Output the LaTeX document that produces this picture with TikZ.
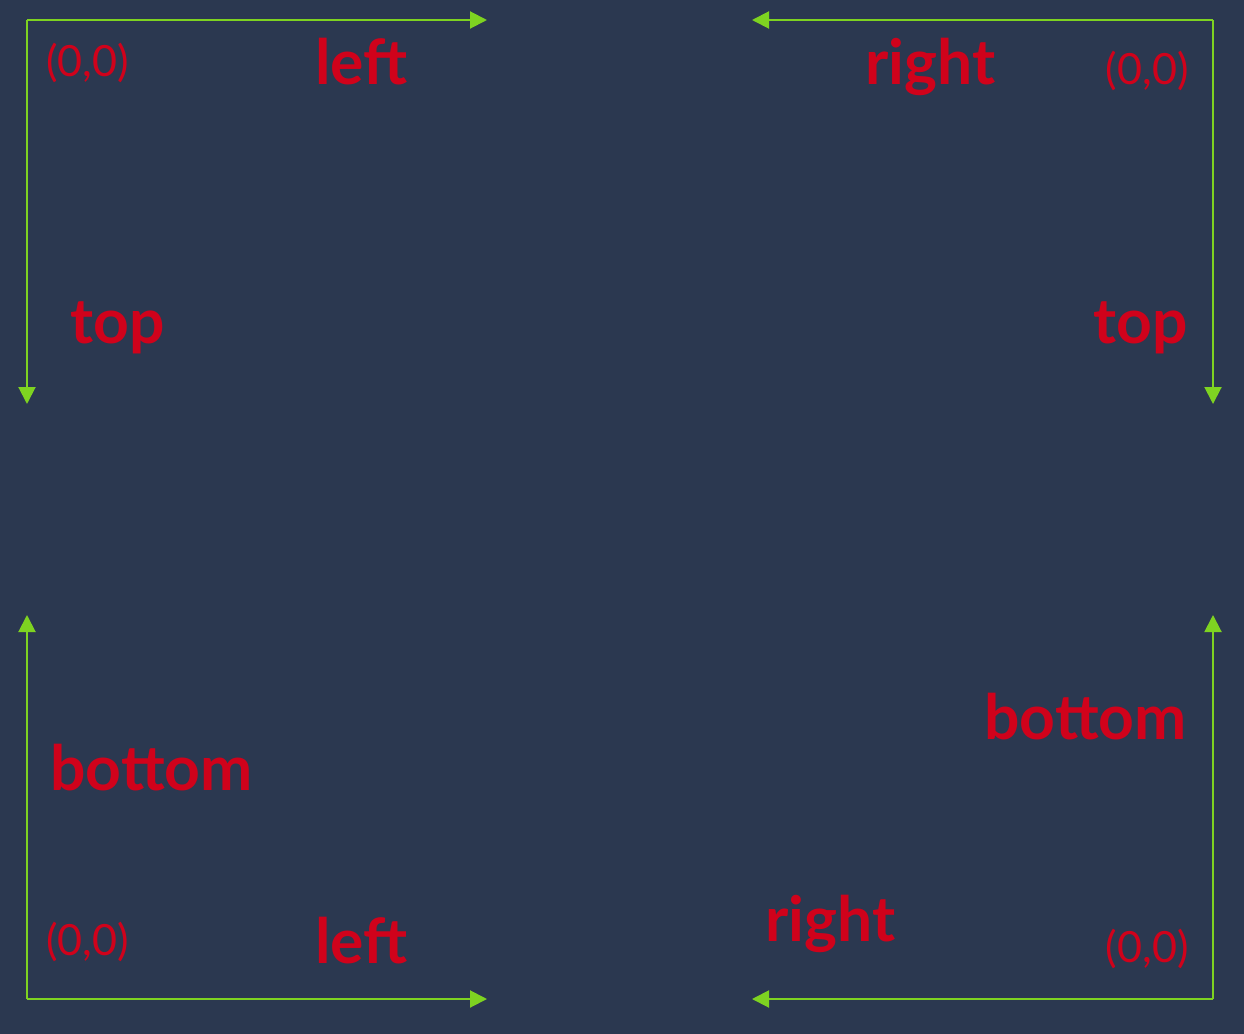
\documentclass[tikz,border=0pt]{standalone}
\usepackage{fontspec}
\setmainfont{Lato}
\usetikzlibrary{arrows.meta}

\definecolor{bgblue}{RGB}{43,56,80}
\definecolor{axisgreen}{RGB}{126,211,33}
\definecolor{labelred}{RGB}{208,2,27}

\tikzset{
    axis/.style={axisgreen, line width=0.4mm, -{Triangle[length=3.4mm, width=3.4mm]}},
    dirlabel/.style={labelred, font=\fontsize{35.5}{40}\selectfont\bfseries, inner sep=0pt},
    originlabel/.style={labelred, font=\fontsize{24.5}{28}\selectfont, inner sep=0pt}
}

\begin{document}
\begin{tikzpicture}[x=0.02cm, y=-0.02cm]
                % Background
                \fill[bgblue] (0,0) rectangle (1244,1034);
                \useasboundingbox (0,0) rectangle (1244,1034);
                
                % Corners and arrow ends
                \coordinate (tl) at (27,20);
                \coordinate (tlx) at (487,20);
                \coordinate (tly) at (27,404);
                \coordinate (tr) at (1213,20);
                \coordinate (trx) at (752,20);
                \coordinate (try) at (1213,404);
                \coordinate (bl) at (27,999);
                \coordinate (blx) at (487,999);
                \coordinate (bly) at (27,615);
                \coordinate (br) at (1213,999);
                \coordinate (brx) at (752,999);
                \coordinate (bry) at (1213,615);
                
                % Axes
                \foreach \c in {tl,tr,bl,br} {
                    \draw[axis] (\c) -- (\c x);
                    \draw[axis] (\c) -- (\c y);
                }
                
                % Top left
                \node[originlabel, anchor=base west] (tlo) at (46,77) {(0,0)};
                \node[dirlabel, anchor=base west] (tlleft) at (315,85) {left};
                \node[dirlabel, anchor=base west] (tltop) at (70,343) {top};
                
                % Top right
                \node[originlabel, anchor=base east] (tro) at (1189,85) {(0,0)};
                \node[dirlabel, anchor=base west] (trright) at (865,85) {right};
                \node[dirlabel, anchor=base east] (trtop) at (1188,343) {top};
                
                % Bottom left
                \node[originlabel, anchor=base west] (blo) at (46,955) {(0,0)};
                \node[dirlabel, anchor=base west] (blleft) at (315,963) {left};
                \node[dirlabel, anchor=base west] (blbottom) at (50,790) {bottom};
                
                % Bottom right
                \node[originlabel, anchor=base east] (bro) at (1189,962) {(0,0)};
                \node[dirlabel, anchor=base west] (brright) at (765,941) {right};
                \node[dirlabel, anchor=base east] (brbottom) at (1187,739) {bottom};
            \end{tikzpicture}
\end{document}
